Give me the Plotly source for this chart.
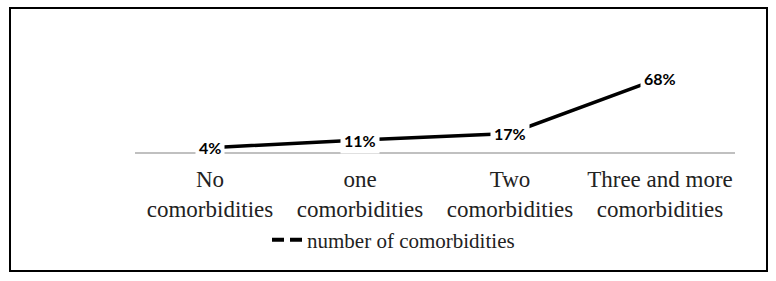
import plotly.graph_objects as go

categories = ["No<br>comorbidities", "one<br>comorbidities", "Two<br>comorbidities", "Three and more<br>comorbidities"]
values = [4, 11, 17, 68]
value_labels = ["4%", "11%", "17%", "68%"]
series_name = "number of comorbidities"

fig = go.Figure()
fig.add_trace(go.Scatter(
    x=categories, y=values, mode="lines",
    line=dict(color="black", width=3.5),
    showlegend=False, hoverinfo="skip"))
# legend entry (dashed as in reference)
fig.add_trace(go.Scatter(
    x=[None], y=[None], mode="lines", name=series_name,
    line=dict(color="black", width=4, dash="12px,6px"),
    showlegend=True))

for c, v, t in zip(categories, values, value_labels):
    fig.add_annotation(x=c, y=v, text=t, showarrow=False,
                       font=dict(family="Lato", size=16, color="black", weight="bold"),
                       bgcolor="white", borderpad=3)

L, R, T, B = 135, 41, 65, 129
W, H = 776, 281
pw, ph = W - L - R, H - T - B
def px(x): return (x - L) / pw
def py(y): return (H - B - y) / ph

fig.add_shape(type="rect", xref="paper", yref="paper",
              x0=px(10), x1=px(767), y0=py(271), y1=py(8),
              line=dict(color="black", width=2), layer="below")

serif = "Liberation Serif, Times New Roman, serif"
fig.update_layout(
    width=W, height=H,
    margin=dict(l=L, r=R, t=T, b=B, autoexpand=False),
    paper_bgcolor="white", plot_bgcolor="white",
    font=dict(family=serif, color="#222"),
    xaxis=dict(type="category", range=[-0.5, 3.5], showgrid=False, showline=True,
               linecolor="#c0c0c0", linewidth=1.5, ticks="",
               tickfont=dict(family=serif, size=23, color="#222"),
               ticklabelstandoff=6),
    yaxis=dict(range=[0, 80], visible=False, showgrid=False, zeroline=False),
    showlegend=True,
    legend=dict(orientation="h", x=px(267), xanchor="left", y=py(240), yanchor="middle",
                font=dict(family=serif, size=21, color="#222"),
                bgcolor="rgba(0,0,0,0)"),
)

fig.write_html("out.html")
